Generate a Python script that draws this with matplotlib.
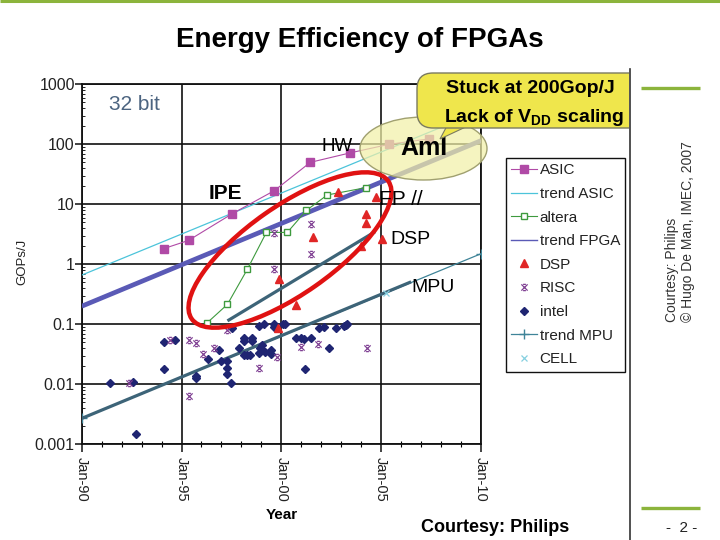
import matplotlib
matplotlib.use('Agg')
import matplotlib.pyplot as plt
from matplotlib.patches import Ellipse, FancyBboxPatch, Polygon, Rectangle
from matplotlib.path import Path
from matplotlib.ticker import FixedLocator, FixedFormatter, NullFormatter

plt.rcParams['font.family'] = ['Liberation Sans', 'DejaVu Sans']
plt.rcParams['mathtext.fontset'] = 'custom'
plt.rcParams['mathtext.rm'] = 'Liberation Sans'
plt.rcParams['mathtext.bf'] = 'Liberation Sans:bold'

# ---------------- data (year, GOPs/J) ----------------
asic_year = [1994.1, 1995.35, 1997.55, 1999.65, 2001.45, 2003.45, 2005.4, 2007.4]
asic_val = [1.82, 2.5, 7.0, 16.9, 50, 72, 100, 123]

trend_asic_year = [1990, 2010]
trend_asic_val = [0.66, 360]

altera_year = [1996.3, 1997.3, 1998.3, 1999.25, 2000.3, 2001.25, 2002.3, 2004.25]
altera_val = [0.107, 0.215, 0.83, 3.4, 3.4, 7.9, 14.3, 19]

trend_fpga_year = [1990, 2010]
trend_fpga_val = [0.2, 115]

dsp_year = [1999.9, 2000.75, 1999.85, 2001.6, 2002.85, 2004.25, 2004.25, 2004.0, 2005.05, 2004.75]
dsp_val = [0.56, 0.21, 0.086, 2.85, 15.8, 6.9, 4.8, 2.0, 2.6, 13.4]

risc_year = [1992.35, 1994.4, 1995.35, 1995.7, 1996.1, 1996.65, 1997.3, 1998.9, 1999.8,
             1999.65, 1999.65, 2001.5, 2001.5, 1995.35, 2001.0, 2001.85, 2004.3]
risc_val = [0.0107, 0.055, 0.055, 0.049, 0.032, 0.040, 0.080, 0.0185, 0.029,
            0.83, 3.3, 4.7, 1.5, 0.0064, 0.042, 0.047, 0.041]

intel_year = [1991.4, 1992.55, 1992.7, 1994.1, 1994.1, 1994.65, 1995.7, 1995.75, 1996.35,
              1996.9, 1997.0, 1997.3, 1997.3, 1997.3, 1997.5, 1997.55, 1997.9, 1998.15,
              1998.15, 1998.55, 1998.55, 1998.15, 1998.3, 1998.45, 1998.9, 1998.95, 1999.05,
              1999.2, 1999.5, 1999.5, 1998.9, 1999.15, 1999.65, 1999.65, 2000.1, 2000.2,
              2000.75, 2001.0, 2001.15, 2001.5, 2001.2, 2001.9, 2002.15, 2002.4, 2002.75,
              2003.25, 2003.3, 2003.15]
intel_val = [0.0105, 0.011, 0.0015, 0.051, 0.018, 0.054, 0.014, 0.0125, 0.026,
             0.038, 0.024, 0.024, 0.0185, 0.015, 0.0105, 0.086, 0.040, 0.060,
             0.052, 0.060, 0.052, 0.031, 0.031, 0.031, 0.033, 0.040, 0.045,
             0.035, 0.038, 0.032, 0.095, 0.10, 0.10, 0.090, 0.10, 0.10,
             0.060, 0.058, 0.056, 0.058, 0.0178, 0.088, 0.090, 0.040, 0.086,
             0.097, 0.10, 0.093]

trend_mpu_year = [1990, 2010]
trend_mpu_val = [0.0027, 1.5]

cell_year = [2005.25]
cell_val = [0.33]

# hand-drawn overlay trend strokes
mpu_stroke_year = [1990, 2006.5]
mpu_stroke_val = [0.0027, 0.51]
dsp_stroke_year = [1997.3, 2004.7]
dsp_stroke_val = [0.114, 3.5]

x_ticks = [1990, 1995, 2000, 2005, 2010]
x_labels = ['Jan-90', 'Jan-95', 'Jan-00', 'Jan-05', 'Jan-10']
x_minor = list(range(1990, 2011))
y_ticks = [0.001, 0.01, 0.1, 1, 10, 100, 1000]
y_labels = ['0.001', '0.01', '0.1', '1', '10', '100', '1000']

# ---------------- figure ----------------
W, H = 720, 540
fig = plt.figure(figsize=(7.2, 5.4), dpi=100)
ax = fig.add_axes([81.7 / W, (H - 444.3) / H, (481 - 81.7) / W, 360 / H])
ax.set_yscale('log')
ax.set_xlim(1990, 2010)
ax.set_ylim(1e-3, 1e3)

ax.xaxis.set_major_locator(FixedLocator(x_ticks))
ax.xaxis.set_major_formatter(FixedFormatter(x_labels))
ax.xaxis.set_minor_locator(FixedLocator(x_minor))
ax.xaxis.set_minor_formatter(NullFormatter())
ax.yaxis.set_major_locator(FixedLocator(y_ticks))
ax.yaxis.set_major_formatter(FixedFormatter(y_labels))
minor_y = [m * 10.0 ** e for e in range(-3, 3) for m in range(2, 10)]
ax.yaxis.set_minor_locator(FixedLocator(minor_y))
ax.yaxis.set_minor_formatter(NullFormatter())

ax.tick_params(axis='x', which='major', direction='out', length=6, width=1.2,
               labelsize=10.5, labelrotation=-90, pad=3, colors='#222222')
ax.tick_params(axis='x', which='minor', direction='inout', length=4, width=0.8)
ax.tick_params(axis='y', which='major', direction='out', length=5, width=1.2,
               labelsize=11.5, pad=0, colors='#222222')
ax.tick_params(axis='y', which='minor', direction='in', length=2.5, width=0.6)

ax.grid(True, which='major', color='#111111', lw=1.2)
ax.set_axisbelow(True)
for s in ax.spines.values():
    s.set_color('#111111')
    s.set_linewidth(1.3)

ax.set_xlabel('Year', fontsize=11, fontweight='bold')
ax.xaxis.set_label_coords(0.5, (444.3 - 515) / 360)
ax.xaxis.label.set_va('center')
ax.set_ylabel('GOPs/J', fontsize=9.5, color='#222222')
ax.yaxis.set_label_coords((22 - 81.7) / 399.3, (444.3 - 262) / 360)
ax.yaxis.label.set_va('center')

c_asic = '#B04AA6'
c_tasic = '#4CC4DA'
c_alt = '#3E9A3E'
c_fpga = '#5A5AB6'
c_dsp = '#E02626'
c_risc = '#7E3E92'
c_intel = '#1F2572'
c_mpu = '#3F8498'
c_stroke = '#3D6478'
c_cell = '#86D0E0'

risc_marker = Path([(-1, -1), (1, 1), (-1, 1), (1, -1), (-0.45, 1), (0.45, 1),
                    (-0.45, -1), (0.45, -1)],
                   [Path.MOVETO, Path.LINETO] * 4)

h_tasic, = ax.plot(trend_asic_year, trend_asic_val, color=c_tasic, lw=0.9, zorder=3,
                   label='trend ASIC')
ax.plot(trend_fpga_year, trend_fpga_val, color=c_fpga, lw=3.4, zorder=3,
        solid_capstyle='butt')
h_fpga, = ax.plot(trend_fpga_year, trend_fpga_val, color=c_fpga, lw=1.0, zorder=3,
                  label='trend FPGA')
h_mpu, = ax.plot(trend_mpu_year, trend_mpu_val, color=c_mpu, lw=0.9, marker='+', ms=7,
                 mew=1.0, zorder=3, label='trend MPU')
ax.plot(mpu_stroke_year, mpu_stroke_val, color=c_stroke, lw=2.3, zorder=4,
        solid_capstyle='butt')
ax.plot(dsp_stroke_year, dsp_stroke_val, color=c_stroke, lw=2.3, zorder=4,
        solid_capstyle='butt')
h_asic, = ax.plot(asic_year, asic_val, color=c_asic, lw=0.8, marker='s', ms=5.5,
                  mec=c_asic, zorder=5, label='ASIC')
h_alt, = ax.plot(altera_year, altera_val, color=c_alt, lw=0.8, marker='s', ms=5,
                 mfc='white', mec=c_alt, mew=1.0, zorder=5, label='altera')
h_intel, = ax.plot(intel_year, intel_val, ls='none', marker='D', ms=4.5, color=c_intel,
                   zorder=5, label='intel')
h_risc, = ax.plot(risc_year, risc_val, ls='none', marker=risc_marker, ms=4.5, mec=c_risc,
                  mfc='none', mew=0.9, zorder=6, label='RISC')
h_dsp, = ax.plot(dsp_year, dsp_val, ls='none', marker='^', ms=6, color=c_dsp, zorder=6,
                 label='DSP')
h_cell, = ax.plot(cell_year, cell_val, ls='none', marker='x', ms=4, mew=0.9, color=c_cell,
                  zorder=6, label='CELL')

handles = [h_asic, h_tasic, h_alt, h_fpga, h_dsp, h_risc, h_intel, h_mpu, h_cell]
leg = fig.legend(handles, [h.get_label() for h in handles], loc='upper left',
                 bbox_to_anchor=(506 / W, 1 - 158 / H), fancybox=False, framealpha=1,
                 edgecolor='#111111', fontsize=11, handlelength=1.65, handletextpad=0.2,
                 labelspacing=0.63, borderpad=0.35, borderaxespad=0, numpoints=1)
leg.get_frame().set_linewidth(1.0)
for t in leg.get_texts():
    t.set_color('#222222')

# ---------------- overlay annotations (slide pixel space) ----------------
ov = fig.add_axes([0, 0, 1, 1], zorder=10)
ov.set_xlim(0, W)
ov.set_ylim(H, 0)
ov.axis('off')
ov.patch.set_alpha(0)

ov.add_patch(Ellipse((423.5, 148.5), 127, 63, facecolor=(0.95, 0.94, 0.66, 0.72),
                     edgecolor='#A0A070', lw=1.0, zorder=1))
ov.text(424, 155, 'AmI', ha='center', va='baseline', fontsize=18, fontweight='bold', zorder=2)

ov.add_patch(Ellipse((290, 250), 240, 88, angle=-35, fill=False, edgecolor='#E01212',
                     lw=3.2, zorder=3))

clip = Rectangle((0, 0), 629, H, transform=ov.transData)
tail = Polygon([(448, 124), (472, 124), (440, 139)], closed=True, facecolor='#EFE64C',
               edgecolor='#7A7A60', lw=0.8, zorder=4)
ov.add_patch(tail)
bubble = FancyBboxPatch((417, 73), 230, 55, boxstyle='round,pad=0,rounding_size=16',
                        facecolor='#EFE64C', edgecolor='#7A7A60', lw=1.0, zorder=5)
ov.add_patch(bubble)
bubble.set_clip_path(clip)
tail.set_clip_path(clip)
ov.text(530, 93, 'Stuck at 200Gop/J', ha='center', va='baseline', fontsize=14,
        fontweight='bold', zorder=6)
ov.text(534, 122, r'Lack of V$_{\mathbf{DD}}$ scaling', ha='center', va='baseline',
        fontsize=14, fontweight='bold', zorder=6)

ov.text(134, 110, '32 bit', ha='center', va='baseline', fontsize=15, color='#4C6480')
ov.text(337.5, 151, 'HW', ha='center', va='baseline', fontsize=13.5)
ov.text(225, 199, 'IPE', ha='center', va='baseline', fontsize=15, fontweight='bold')
ov.text(401, 205, 'FP //', ha='center', va='baseline', fontsize=15)
ov.text(410, 243.5, 'DSP', ha='center', va='baseline', fontsize=14)
ov.text(433, 292.5, 'MPU', ha='center', va='baseline', fontsize=14)

# slide decorations
green = '#8CB43C'
ov.plot([0, W], [1, 1], color=green, lw=2.2, solid_capstyle='butt')
ov.plot([641, 700], [88, 88], color=green, lw=2.4, solid_capstyle='butt')
ov.plot([641, 700], [508, 508], color=green, lw=2.4, solid_capstyle='butt')
ov.plot([629.5, 629.5], [69, H], color='#333333', lw=1.2)
ov.text(360, 47, 'Energy Efficiency of FPGAs', ha='center', va='baseline', fontsize=20,
        fontweight='bold')
ov.text(495, 532, 'Courtesy: Philips', ha='center', va='baseline', fontsize=13,
        fontweight='bold')
ov.text(682, 532, '-  2 -', ha='center', va='baseline', fontsize=11, color='#222222')
ov.text(672, 322, 'Courtesy: Philips', rotation=90, ha='center', va='bottom', fontsize=10,
        color='#333333')
ov.text(688, 322, '\u00a9 Hugo De Man, IMEC, 2007', rotation=90, ha='center', va='bottom',
        fontsize=10, color='#333333')

fig.savefig('out.png', dpi=100)
